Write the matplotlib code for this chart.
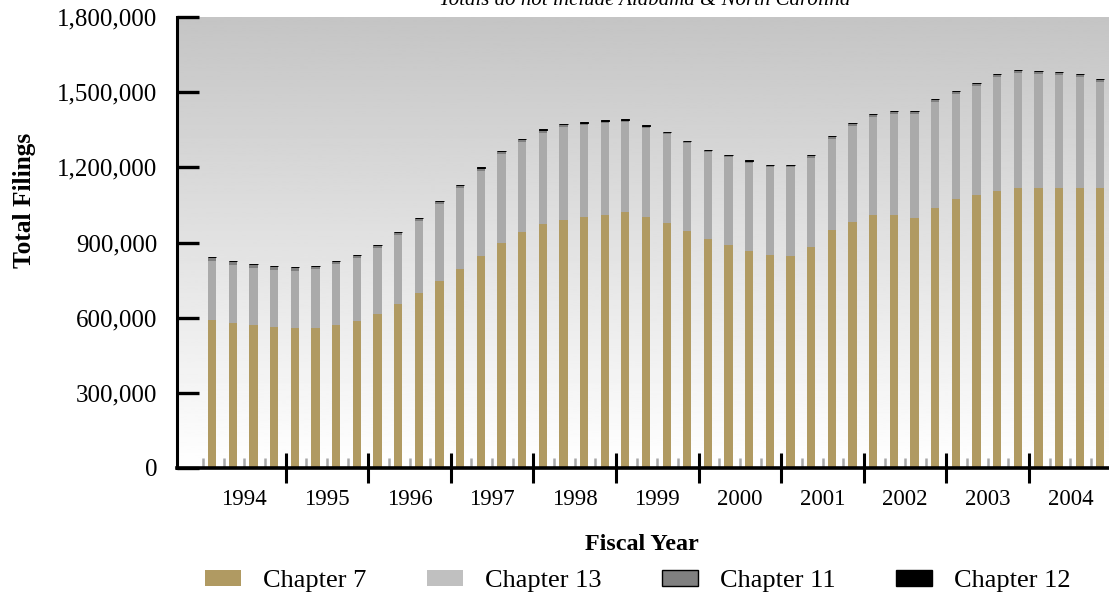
import numpy as np
import matplotlib
matplotlib.use("Agg")
import matplotlib.pyplot as plt
from matplotlib.patches import Patch
from matplotlib.ticker import FuncFormatter

# Data (thousands of filings, 12 months ending each quarter)

years = ["1994", "1995", "1996", "1997", "1998", "1999",
         "2000", "2001", "2002", "2003", "2004"]

chapter7 = [592, 580, 572, 564, 560, 560, 572, 588, 616, 656, 700, 748,
            796, 848, 900, 940, 972, 988, 1000, 1008, 1020, 1000, 976, 944,
            912, 892, 868, 852, 848, 884, 948, 980, 1008, 1008, 996, 1036,
            1072, 1088, 1104, 1116, 1116, 1116, 1116, 1116]

chapter13 = [234, 231, 227, 228, 228, 233, 242, 250, 262, 274, 286, 306,
             322, 339, 355, 363, 367, 373, 368, 368, 360, 357, 357, 353,
             349, 349, 350, 348, 352, 355, 367, 383, 391, 403, 415, 424,
             420, 436, 457, 461, 457, 453, 445, 425]

chapter11 = [17, 16, 16, 15, 15, 14, 13, 13, 13, 12, 12, 12,
             12, 12, 11, 11, 11, 10, 10, 10, 10, 9, 9, 9,
             9, 9, 9, 10, 10, 11, 11, 12, 12, 12, 12, 11,
             11, 11, 10, 10, 10, 10, 10, 10]

chapter12 = [1] * 44

series_names = ["Chapter 7", "Chapter 13", "Chapter 11", "Chapter 12"]

ch7 = np.array(chapter7) * 1000
ch13 = np.array(chapter13) * 1000
ch11 = np.array(chapter11) * 1000
ch12 = np.array(chapter12) * 1000

plt.rcParams["font.family"] = ["Liberation Serif", "DejaVu Serif"]

fig = plt.figure(figsize=(11.09, 5.98), dpi=100)

ax = fig.add_axes([177 / 1109, 1 - 468 / 598, 932 / 1109, 451 / 598])

# Gradient background (darker at the top)

grad = np.linspace(0.77, 1.0, 256).reshape(-1, 1)
ax.imshow(grad, cmap="gray", vmin=0, vmax=1, aspect="auto",
          extent=[-1.26, 43.87, 0, 1800000], zorder=0)

# Bars

x = np.arange(len(ch7)) + 0.45
w = 0.40

ax.bar(x, ch7, w, color="#b09a62", zorder=2)
ax.bar(x, ch13, w, bottom=ch7, color="#aaaaaa", zorder=2)
ax.bar(x, ch11, w, bottom=ch7 + ch13, color="#808080", zorder=2)
ax.bar(x, ch12, w, bottom=ch7 + ch13 + ch11, color="black",
       edgecolor="black", linewidth=0.7, zorder=2)

ax.set_xlim(-1.26, 43.87)
ax.set_ylim(0, 1800000)

# Axes styling

for side in ["top", "right"]:
    ax.spines[side].set_visible(False)

ax.spines["left"].set_linewidth(2.2)
ax.spines["bottom"].set_linewidth(2.6)
ax.spines["left"].set_zorder(5)
ax.spines["bottom"].set_zorder(5)

ax.set_yticks(np.arange(0, 1800001, 300000))
ax.yaxis.set_major_formatter(FuncFormatter(lambda v, p: f"{int(v):,}"))
ax.tick_params(axis="y", direction="in", length=16, width=2.4,
               pad=14, labelsize=18, color="black")

major = [k for k in range(4, 44, 4)]
minor = [k for k in range(0, 44) if k % 4 != 0 or k == 0]

ax.set_xticks(major)
ax.set_xticklabels([])
ax.set_xticks(minor, minor=True)
ax.tick_params(axis="x", which="major", direction="inout", length=21,
               width=2.2, color="black")
ax.tick_params(axis="x", which="minor", direction="in", length=7,
               width=1.8, color="#a8a8a8")

# Year labels

sec = ax.secondary_xaxis("bottom")
sec.set_xticks([4 * i + 2 for i in range(len(years))])
sec.set_xticklabels(years)
sec.tick_params(length=0, pad=15, labelsize=16.5)
sec.spines["bottom"].set_visible(False)

# Labels and title

fig.text(25 / 1109, 1 - 200 / 598, "Total Filings", rotation=90,
         ha="center", va="center", fontsize=18.3, fontweight="bold")

fig.text(642 / 1109, 1 - 544 / 598, "Fiscal Year",
         ha="center", va="center", fontsize=17.4, fontweight="bold")

fig.text(645 / 1109, 1 - 5 / 598,
         "Totals do not include Alabama & North Carolina",
         ha="center", va="baseline", fontsize=15, style="italic")

# Legend

handles = [
    Patch(facecolor="#b09a62", edgecolor="none"),
    Patch(facecolor="#c0c0c0", edgecolor="none"),
    Patch(facecolor="#808080", edgecolor="black", linewidth=1),
    Patch(facecolor="black", edgecolor="black"),
]

fig.legend(handles, series_names, loc="center",
           bbox_to_anchor=(638 / 1109, 1 - 581 / 598), ncol=4,
           frameon=False, fontsize=19, handlelength=1.36, handleheight=0.6,
           handletextpad=0.83, columnspacing=2.3)

fig.savefig("out.png", dpi=100)
